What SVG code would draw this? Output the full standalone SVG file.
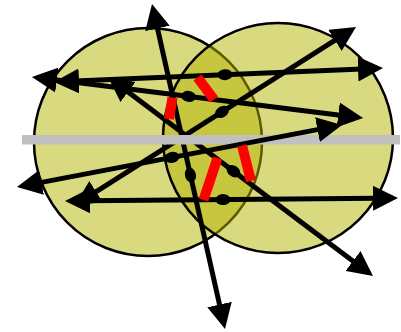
<svg xmlns="http://www.w3.org/2000/svg" width="401" height="332" viewBox="0 0 401 332">
<defs>
<style>
.circ{fill:#b3b300;fill-opacity:.5;stroke:#000;stroke-width:2.5}
.ln{stroke:#000;stroke-width:5;fill:none;marker-start:url(#ah);marker-end:url(#ah)}
.dot{fill:#000}
.red{stroke:#ff0000;stroke-width:10;stroke-linecap:butt}
</style>
<marker id="ah" markerUnits="userSpaceOnUse" markerWidth="25" markerHeight="25" viewBox="0 0 25 25" refX="4" refY="12.5" orient="auto-start-reverse">
<path d="M0,0 L25,12.5 L0,25 Z" fill="#000"/>
</marker>
</defs>
<g id="circleA"><circle class="circ" cx="148" cy="142" r="114"/></g>
<g id="circleB"><circle class="circ" cx="278" cy="138" r="115"/></g>
<g id="connectors">
<line class="ln" x1="156.6" y1="24.5" x2="220.4" y2="308.5"/>
<line class="ln" x1="52.8" y1="79.6" x2="342.2" y2="115.4"/>
<line class="ln" x1="75" y1="81.1" x2="362" y2="68.9"/>
<line class="ln" x1="92.7" y1="193.8" x2="338.3" y2="38.2"/>
<line class="ln" x1="124.8" y1="89.6" x2="356.2" y2="263.4"/>
<line class="ln" x1="86" y1="200.8" x2="377" y2="198.2"/>
</g>
<g id="axis"><rect x="22" y="135" width="378" height="9.5" fill="#c0c0c0"/></g>
<g id="connectors2">
<line class="ln" x1="37.6" y1="183.1" x2="321.4" y2="128.9"/>
</g>
<g id="points">
<ellipse class="dot" cx="190.4" cy="175" rx="7.5" ry="5.5" transform="rotate(77.3 190.4 175)"/>
<ellipse class="dot" cx="188.5" cy="96.4" rx="7.5" ry="5.5" transform="rotate(7.06 188.5 96.4)"/>
<ellipse class="dot" cx="225" cy="74.7" rx="7.5" ry="5.5" transform="rotate(-2.44 225 74.7)"/>
<ellipse class="dot" cx="222" cy="111.9" rx="7.5" ry="5.5" transform="rotate(-32.4 222 111.9)"/>
<ellipse class="dot" cx="172" cy="157.4" rx="7.5" ry="5.5" transform="rotate(-10.8 172 157.4)"/>
<ellipse class="dot" cx="233.5" cy="171.2" rx="7.5" ry="5.5" transform="rotate(36.9 233.5 171.2)"/>
<ellipse class="dot" cx="223" cy="199.6" rx="7.5" ry="5.5"/>
</g>
<g id="segments">
<line class="red" x1="197.5" y1="77.5" x2="214" y2="99.5"/>
<line class="red" x1="172.5" y1="97.5" x2="169" y2="119"/>
<line class="red" x1="217.5" y1="158" x2="203.5" y2="200"/>
<line class="red" x1="242" y1="145.5" x2="251" y2="181"/>
</g>
</svg>
